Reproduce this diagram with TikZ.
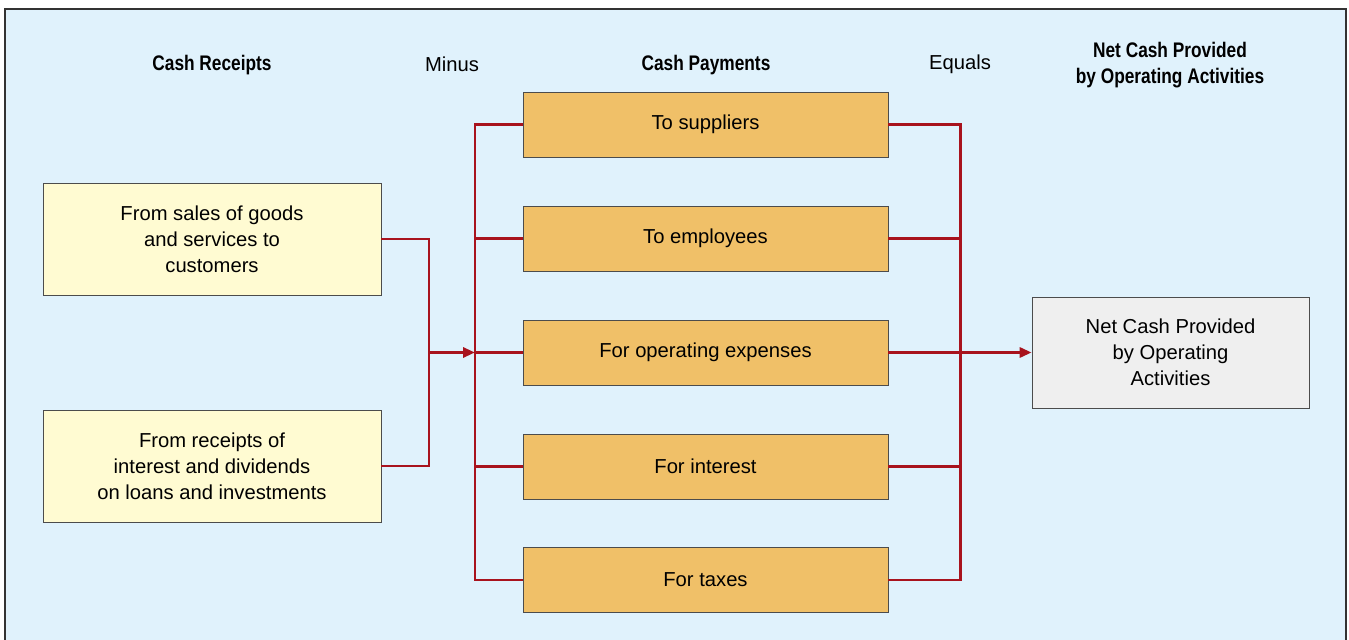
\documentclass[tikz,border=0pt]{standalone}
\usepackage{fontspec}
\setmainfont{Liberation Sans}
\newfontfamily\headfont[FakeStretch=0.82]{Liberation Sans}
\usetikzlibrary{arrows.meta,positioning}

\definecolor{bgblue}{HTML}{E0F2FC}
\definecolor{recyellow}{HTML}{FFFBD2}
\definecolor{payorange}{HTML}{F0C068}
\definecolor{netgray}{HTML}{EFEFEF}
\definecolor{flowred}{HTML}{A8131D}

\begin{document}
\begin{tikzpicture}[
    recbox/.style={draw=black!70, fill=recyellow, minimum width=6.76cm, minimum height=2.24cm, align=center, font=\fontsize{11.5}{14.8}\selectfont},
    paybox/.style={draw=black!70, fill=payorange, minimum width=7.3cm, minimum height=1.3cm, font=\fontsize{11.5}{14.8}\selectfont},
    netbox/.style={draw=black!70, fill=netgray, minimum width=5.54cm, minimum height=2.22cm, align=center, font=\fontsize{11.5}{14.8}\selectfont},
    head/.style={font=\headfont\bfseries\fontsize{12}{14.8}\selectfont, align=center},
    word/.style={font=\fontsize{11.5}{14.8}\selectfont},
    flow/.style={draw=flowred, line width=1.7pt},
    flowarrow/.style={flow, -{Triangle[length=0.24cm, width=0.2cm]}},
]
\useasboundingbox (0,0) rectangle (26.98,12.78);

% Frame
\draw[draw=black!80, fill=bgblue, line width=0.6pt] (0.1,-1) rectangle (26.92,12.60);

% Column titles
\node[head] (t1) at (4.24, 11.48) {Cash Receipts};
\node[word] (t2) at (9.04, 11.50) {Minus};
\node[head] (t3) at (14.12, 11.48) {Cash Payments};
\node[word] (t4) at (19.20, 11.50) {Equals};
\node[head] (t5) at (23.40, 11.48) {Net Cash Provided\\by Operating Activities};

% Cash receipts
\node[recbox] (rec1) at (4.24, 8.00) {From sales of goods\\and services to\\customers};
\node[recbox] (rec2) at (4.24, 3.46) {From receipts of\\interest and dividends\\on loans and investments};

% Cash payments
\node[paybox] (pay1) at (14.11, 10.29) {To suppliers};
\node[paybox] (pay2) at (14.11, 8.01) {To employees};
\node[paybox] (pay3) at (14.11, 5.73) {For operating expenses};
\node[paybox] (pay4) at (14.11, 3.45) {For interest};
\node[paybox] (pay5) at (14.11, 1.18) {For taxes};

% Net cash
\node[netbox] (net) at (23.41, 5.73) {Net Cash Provided\\by Operating\\Activities};

% Junctions
\coordinate (ljoin) at (8.58, 5.73);
\coordinate (pjoin) at (9.50, 5.73);
\coordinate (qjoin) at (19.20, 5.73);

% Connectors
\draw[flow] (rec1.east) -| (ljoin) |- (rec2.east);
\draw[flowarrow] (ljoin) -- (pjoin);

\draw[flow] (pay1.west) -| (pjoin) |- (pay5.west);
\draw[flow] (pay1.east) -| (qjoin) |- (pay5.east);
\foreach \i in {2,4} {
  \draw[flow] (pay\i.west) -- (pay\i.west -| pjoin);
  \draw[flow] (pay\i.east) -- (pay\i.east -| qjoin);
}
\draw[flow] (pjoin) -- (pay3.west);
\draw[flowarrow] (pay3.east) -- (net.west);

\end{tikzpicture}
\end{document}
